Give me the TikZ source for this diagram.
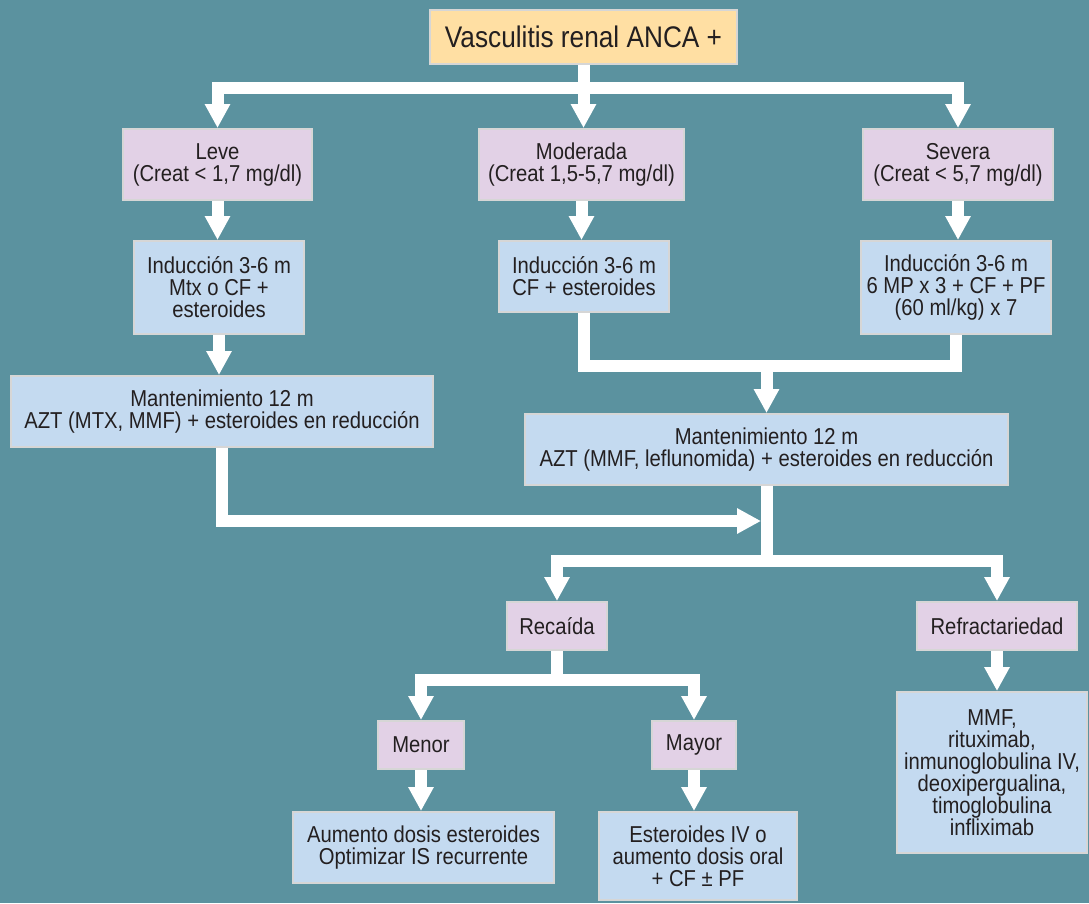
\documentclass[tikz,border=0pt]{standalone}
\usepackage{fontspec}
\setmainfont{Liberation Sans}[FakeStretch=0.88]
\usetikzlibrary{arrows.meta}
\definecolor{fondo}{HTML}{5B929F}
\definecolor{rosado}{HTML}{E2D1E6}
\definecolor{celeste}{HTML}{C4DAF0}
\definecolor{durazno}{HTML}{FFDFA3}
\definecolor{borde}{HTML}{D6D6D6}
\definecolor{texto}{HTML}{231F20}
\begin{document}
\begin{tikzpicture}[x=1pt,y=-1pt,
    caja/.style={draw=borde, line width=2pt, align=center, inner sep=0pt, text=texto, font=\fontsize{23}{22}\selectfont},
    rosa/.style={caja, fill=rosado},
    azul/.style={caja, fill=celeste},
    flecha/.style={draw=white, line width=12pt, -{Triangle[width=24pt,length=24pt]}},
    tubo/.style={draw=white, line width=12pt}]
                \fill[fondo] (0,0) rectangle (1089,903);
                % cajas
                \node[caja, fill=durazno, minimum width=307pt, minimum height=54pt, font=\fontsize{29.8}{29.8}\selectfont] (top) at (583.5,37) {Vasculitis renal ANCA +};
                \node[rosa, minimum width=189pt, minimum height=71pt] (leve) at (217.5,164.5) {Leve\\(Creat < 1,7 mg/dl)};
                \node[rosa, minimum width=205pt, minimum height=71pt] (mod) at (581.5,164.5) {Moderada\\(Creat 1,5-5,7 mg/dl)};
                \node[rosa, minimum width=190pt, minimum height=71pt] (sev) at (958,164.5) {Severa\\(Creat < 5,7 mg/dl)};
                \node[azul, minimum width=170pt, minimum height=93pt] (indleve) at (219,287.5) {Inducción 3-6 m\\Mtx o CF +\\esteroides};
                \node[azul, minimum width=170pt, minimum height=71pt] (indmod) at (584,276.5) {Inducción 3-6 m\\CF + esteroides};
                \node[azul, minimum width=190pt, minimum height=93pt] (indsev) at (956,287.5) {Inducción 3-6 m\\6 MP x 3 + CF + PF\\(60 ml/kg) x 7};
                \node[azul, minimum width=422pt, minimum height=71pt] (mantL) at (222,411.5) {Mantenimiento 12 m\\AZT (MTX, MMF) + esteroides en reducción};
                \node[azul, minimum width=483pt, minimum height=71pt] (mantR) at (766.5,449.5) {Mantenimiento 12 m\\AZT (MMF, leflunomida) + esteroides en reducción};
                \node[rosa, minimum width=100pt, minimum height=48pt] (recaida) at (557,626) {Recaída};
                \node[rosa, minimum width=160pt, minimum height=48pt] (refrac) at (997,626) {Refractariedad};
                \node[rosa, minimum width=86pt, minimum height=48pt] (menor) at (421,745) {Menor};
                \node[rosa, minimum width=84pt, minimum height=48pt] (mayor) at (694,745) {Mayor};
                \node[azul, minimum width=261pt, minimum height=71pt] (aumento) at (423.5,847.5) {Aumento dosis esteroides\\Optimizar IS recurrente};
                \node[azul, minimum width=198pt, minimum height=88pt] (esteroides) at (698,856) {Esteroides IV o\\aumento dosis oral\\+ CF ± PF};
                \node[azul, minimum width=190pt, minimum height=161pt] (result) at (992,772.5) {MMF,\\rituximab,\\inmunoglobulina IV,\\deoxipergualina,\\timoglobulina\\infliximab};
                % conectores
                \coordinate (junta) at (761,521);
                \draw[flecha] (top.south) -- (top.south |- mod.north);
                \draw[flecha] (top.south) -- ++(0,23) -| (leve.north);
                \draw[flecha] (top.south) -- ++(0,23) -| (sev.north);
                \foreach \a/\b in {leve/indleve, mod/indmod, sev/indsev, indleve/mantL, menor/aumento, mayor/esteroides, refrac/result} {
                    \draw[flecha] (\a.south) -- (\a.south |- \b.north);
                }
                \draw[tubo] (indmod.south) -- ++(0,53) -| (indsev.south);
                \draw[flecha] (mantR.north) ++(0,-49) -- (mantR.north);
                \draw[flecha] (mantL.south) |- (junta);
                \draw[flecha] (mantR.south) -- ++(0,74.5) -| (recaida.north);
                \draw[flecha] (mantR.south) -- ++(0,74.5) -| (refrac.north);
                \draw[flecha] (recaida.south) -- ++(0,29) -| (menor.north);
                \draw[flecha] (recaida.south) -- ++(0,29) -| (mayor.north);
\end{tikzpicture}
\end{document}
